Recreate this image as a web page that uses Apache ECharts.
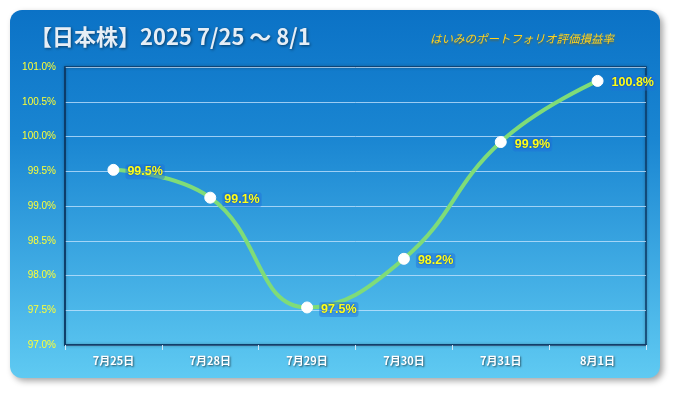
<!DOCTYPE html>
<html><head><meta charset="utf-8">
<script src="https://cdn.jsdelivr.net/npm/echarts@6/dist/echarts.min.js"></script>
<style>html,body{margin:0;padding:0;background:#fff}#c{width:675px;height:393px}</style>
</head><body><div id="c"></div>
<script>
const categories = ['7月25日','7月28日','7月29日','7月30日','7月31日','8月1日'];
const values = [99.52, 99.12, 97.54, 98.24, 99.92, 100.8];
const yTicks = [97.0, 97.5, 98.0, 98.5, 99.0, 99.5, 100.0, 100.5, 101.0];
const titleText = '【日本株】2025 7/25 〜 8/1';
const subText = 'はいみのポートフォリオ評価損益率';

const chart = echarts.init(document.getElementById('c'), null, {renderer:'canvas'});
chart.setOption({
  backgroundColor:'#ffffff',
  animation:false,
  graphic:[
    {type:'rect', z:-10, shape:{x:10,y:10,width:650,height:368,r:12},
     style:{fill:new echarts.graphic.LinearGradient(0,0,0,1,[{offset:0,color:'#0b72c6'},{offset:0.35,color:'#1a86d2'},{offset:1,color:'#5fcaf2'}]),
       shadowBlur:6, shadowOffsetX:3, shadowOffsetY:3, shadowColor:'rgba(0,0,0,0.35)'}},
    {type:'rect', z:-5, shape:{x:65,y:67,width:581,height:278},
     style:{fill:'none', stroke:'#0d3a66', lineWidth:1.5, shadowBlur:3, shadowColor:'rgba(0,0,0,0.4)'}},
    {type:'text', left:30, top:26, style:{text:titleText, fill:'#e6eef6', font:'bold 22px "Noto Sans CJK JP", sans-serif',
      textShadowColor:'rgba(0,0,0,0.5)', textShadowBlur:3, textShadowOffsetX:1, textShadowOffsetY:1}},
    {type:'text', left:430, top:33, style:{text:subText, fill:'#ffd21e', font:'italic 11.5px "Noto Sans CJK JP", sans-serif',
      textShadowColor:'rgba(120,90,0,0.6)', textShadowBlur:2, textShadowOffsetY:2}}
  ],
  grid:{left:65, right:29, top:67, bottom:48, containLabel:false},
  xAxis:{type:'category', data:categories, boundaryGap:true,
    axisLine:{show:true, lineStyle:{color:'#0d3a66', width:1.5}},
    axisTick:{show:true, alignWithLabel:false, lineStyle:{color:'#cfe8f8'}, length:5},
    axisLabel:{color:'#ffffff', fontWeight:'bold', fontSize:11, margin:10, fontFamily:'"Noto Sans CJK JP", sans-serif',
      textShadowColor:'rgba(0,0,0,0.6)', textShadowBlur:2, textShadowOffsetX:1, textShadowOffsetY:1}},
  yAxis:{type:'value', min:97, max:101, interval:0.5,
    axisLine:{show:true, lineStyle:{color:'#0d3a66', width:1.5}},
    axisTick:{show:false},
    splitLine:{lineStyle:{color:'rgba(200,230,255,0.75)', width:1}},
    axisLabel:{color:'#ffff33', fontSize:10, margin:9, fontFamily:'"Liberation Sans", sans-serif',
      formatter:v=>v.toFixed(1)+'%'}},
  series:[{type:'line', data:values, smooth:0.45,
    lineStyle:{color:'#7fdc78', width:4},
    symbol:'circle', symbolSize:11,
    itemStyle:{color:'#ffffff', borderColor:'#ffffff'},
    label:{show:true, position:'right', distance:6, offset:[0,2], formatter:p=>p.value.toFixed(1)+'%',
      color:'#ffff1a', fontWeight:'bold', fontSize:12.5, fontFamily:'"Liberation Sans", sans-serif',
      backgroundColor:'rgba(30,110,220,0.45)', padding:[1,2], borderRadius:3,
      textShadowColor:'rgba(0,40,120,0.8)', textShadowBlur:2}
  }]
});
</script></body></html>
